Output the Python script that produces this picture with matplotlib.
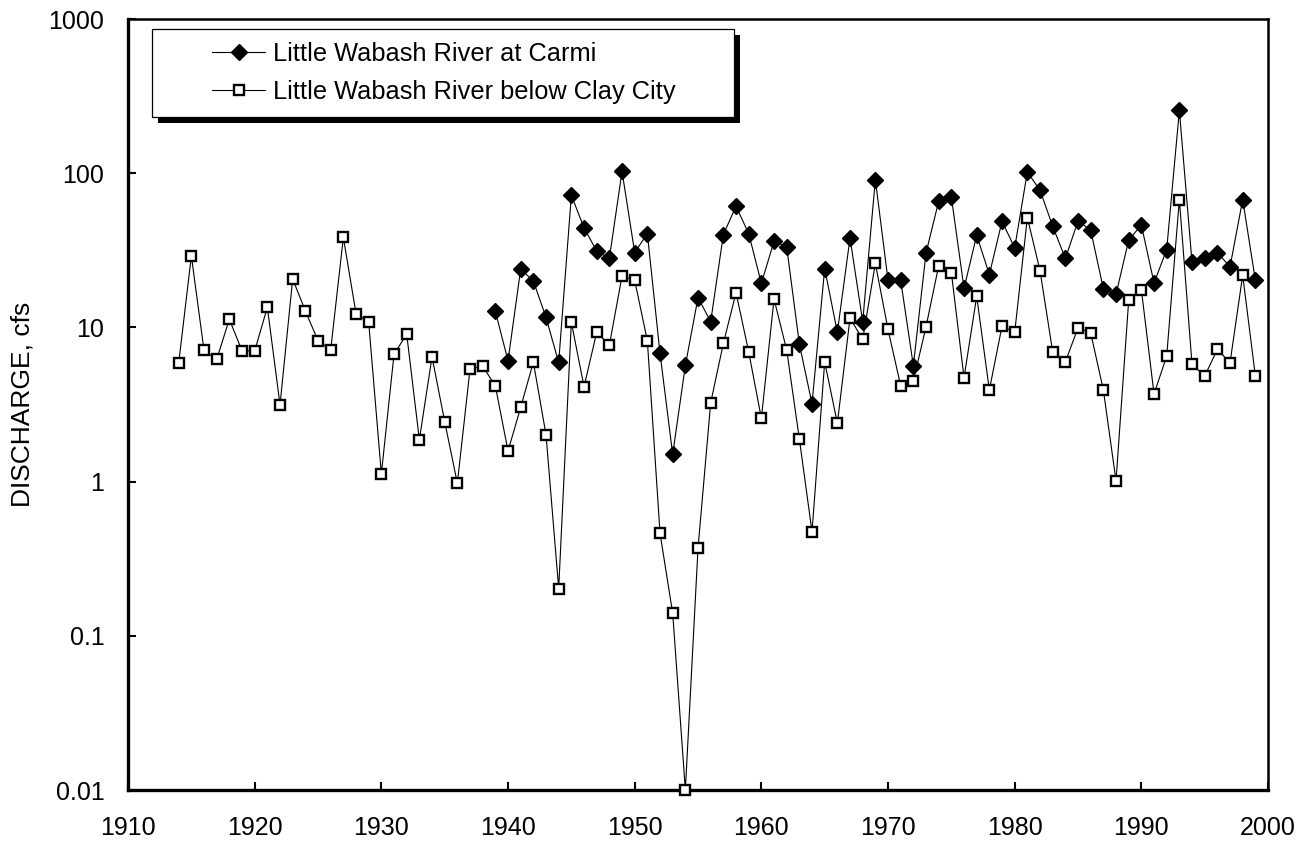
import matplotlib.pyplot as plt
from matplotlib.patches import Rectangle
from matplotlib.ticker import FixedLocator, FixedFormatter, NullLocator

"================================================================="
# Data

carmi_years = list(range(1939, 2000))
carmi_q = [12.7, 6.08, 23.9, 20.0, 11.6, 5.93, 71.9, 44.2, 31.3, 28.0,
           102.8, 30.6, 40.6, 6.79, 1.50, 5.67, 15.6, 10.9, 40.0, 61.1,
           40.6, 19.3, 36.2, 33.3, 7.8, 3.2, 24.1, 9.3, 38.0, 10.9,
           90.9, 20.2, 20.2, 5.64, 30.4, 65.8, 70.1, 17.9, 39.6, 22.0,
           48.8, 32.8, 101.8, 77.5, 45.3, 28.0, 49.0, 42.7, 17.8, 16.4,
           36.8, 46.2, 19.4, 32.0, 255.5, 26.4, 28.0, 30.6, 24.7, 67.5,
           20.2]

clay_years = list(range(1914, 2000))
clay_q = [5.85, 29.1, 7.1, 6.2, 11.3, 7.05, 7.05, 13.5, 3.15, 20.6,
          12.8, 8.2, 7.15, 38.3, 12.3, 10.8, 1.12, 6.7, 9.05, 1.87,
          6.45, 2.45, 0.976, 5.37, 5.61, 4.17, 1.58, 3.03, 5.96, 2.01,
          0.202, 10.8, 4.12, 9.3, 7.68, 21.5, 20.2, 8.2, 0.463, 0.14,
          0.01, 0.37, 3.25, 7.88, 16.8, 6.95, 2.57, 15.3, 7.13, 1.89,
          0.472, 5.98, 2.39, 11.5, 8.36, 26.0, 9.7, 4.18, 4.49, 10.1,
          25.1, 22.7, 4.72, 15.9, 3.93, 10.2, 9.28, 51.6, 23.3, 6.95,
          5.98, 9.94, 9.22, 3.93, 1.01, 15.0, 17.6, 3.70, 6.52, 67.5,
          5.76, 4.84, 7.2, 5.90, 21.8, 4.84]

y_ticks = [0.01, 0.1, 1, 10, 100, 1000]
y_tick_labels = ["0.01", "0.1", "1", "10", "100", "1000"]
x_ticks = list(range(1910, 2001, 10))

"================================================================="
# Figure

plt.rcParams['font.family'] = ['Liberation Sans', 'DejaVu Sans']

fig = plt.figure(figsize=(13.09, 8.41), dpi=100)
ax = fig.add_axes([0.0978, 0.0606, 0.8709, 0.9168])

ax.plot(clay_years, clay_q, color="black", lw=0.8, marker="s", ms=7.5,
        mfc="white", mec="black", mew=1.7, clip_on=False, zorder=3,
        label="Little Wabash River below Clay City")
ax.plot(carmi_years, carmi_q, color="black", lw=0.8, marker="D", ms=8,
        mfc="black", mec="black", clip_on=False, zorder=4,
        label="Little Wabash River at Carmi")

ax.set_yscale("log")
ax.set_ylim(0.01, 1000)
ax.set_xlim(1910, 2000)
ax.yaxis.set_major_locator(FixedLocator(y_ticks))
ax.yaxis.set_major_formatter(FixedFormatter(y_tick_labels))
ax.yaxis.set_minor_locator(NullLocator())
ax.set_xticks(x_ticks)

ax.tick_params(axis="both", direction="in", length=6, width=1.5,
               labelsize=18, pad=19)
ax.tick_params(axis="y", pad=17)
ax.set_ylabel("DISCHARGE, cfs", fontsize=19, labelpad=10)

for s in ["left", "bottom"]:
    ax.spines[s].set_linewidth(2.4)
for s in ["top", "right"]:
    ax.spines[s].set_linewidth(1.8)

"================================================================="
# Legend box with a hard shadow

ax.add_patch(Rectangle((0.0260, 0.8650), 0.5105, 0.1141, transform=ax.transAxes,
                       facecolor="black", edgecolor="black", lw=0,
                       clip_on=False, zorder=5))
ax.add_patch(Rectangle((0.0208, 0.8728), 0.5105, 0.1141, transform=ax.transAxes,
                       facecolor="white", edgecolor="black", lw=0.9,
                       clip_on=False, zorder=6))

h, l = ax.get_legend_handles_labels()
leg = ax.legend(h[::-1], l[::-1], loc="center", bbox_to_anchor=(0.277, 0.930),
                frameon=False, fontsize=18.3, handlelength=2.1,
                handletextpad=0.3, labelspacing=0.55)
leg.set_zorder(7)

fig.savefig("out.png", dpi=100)
